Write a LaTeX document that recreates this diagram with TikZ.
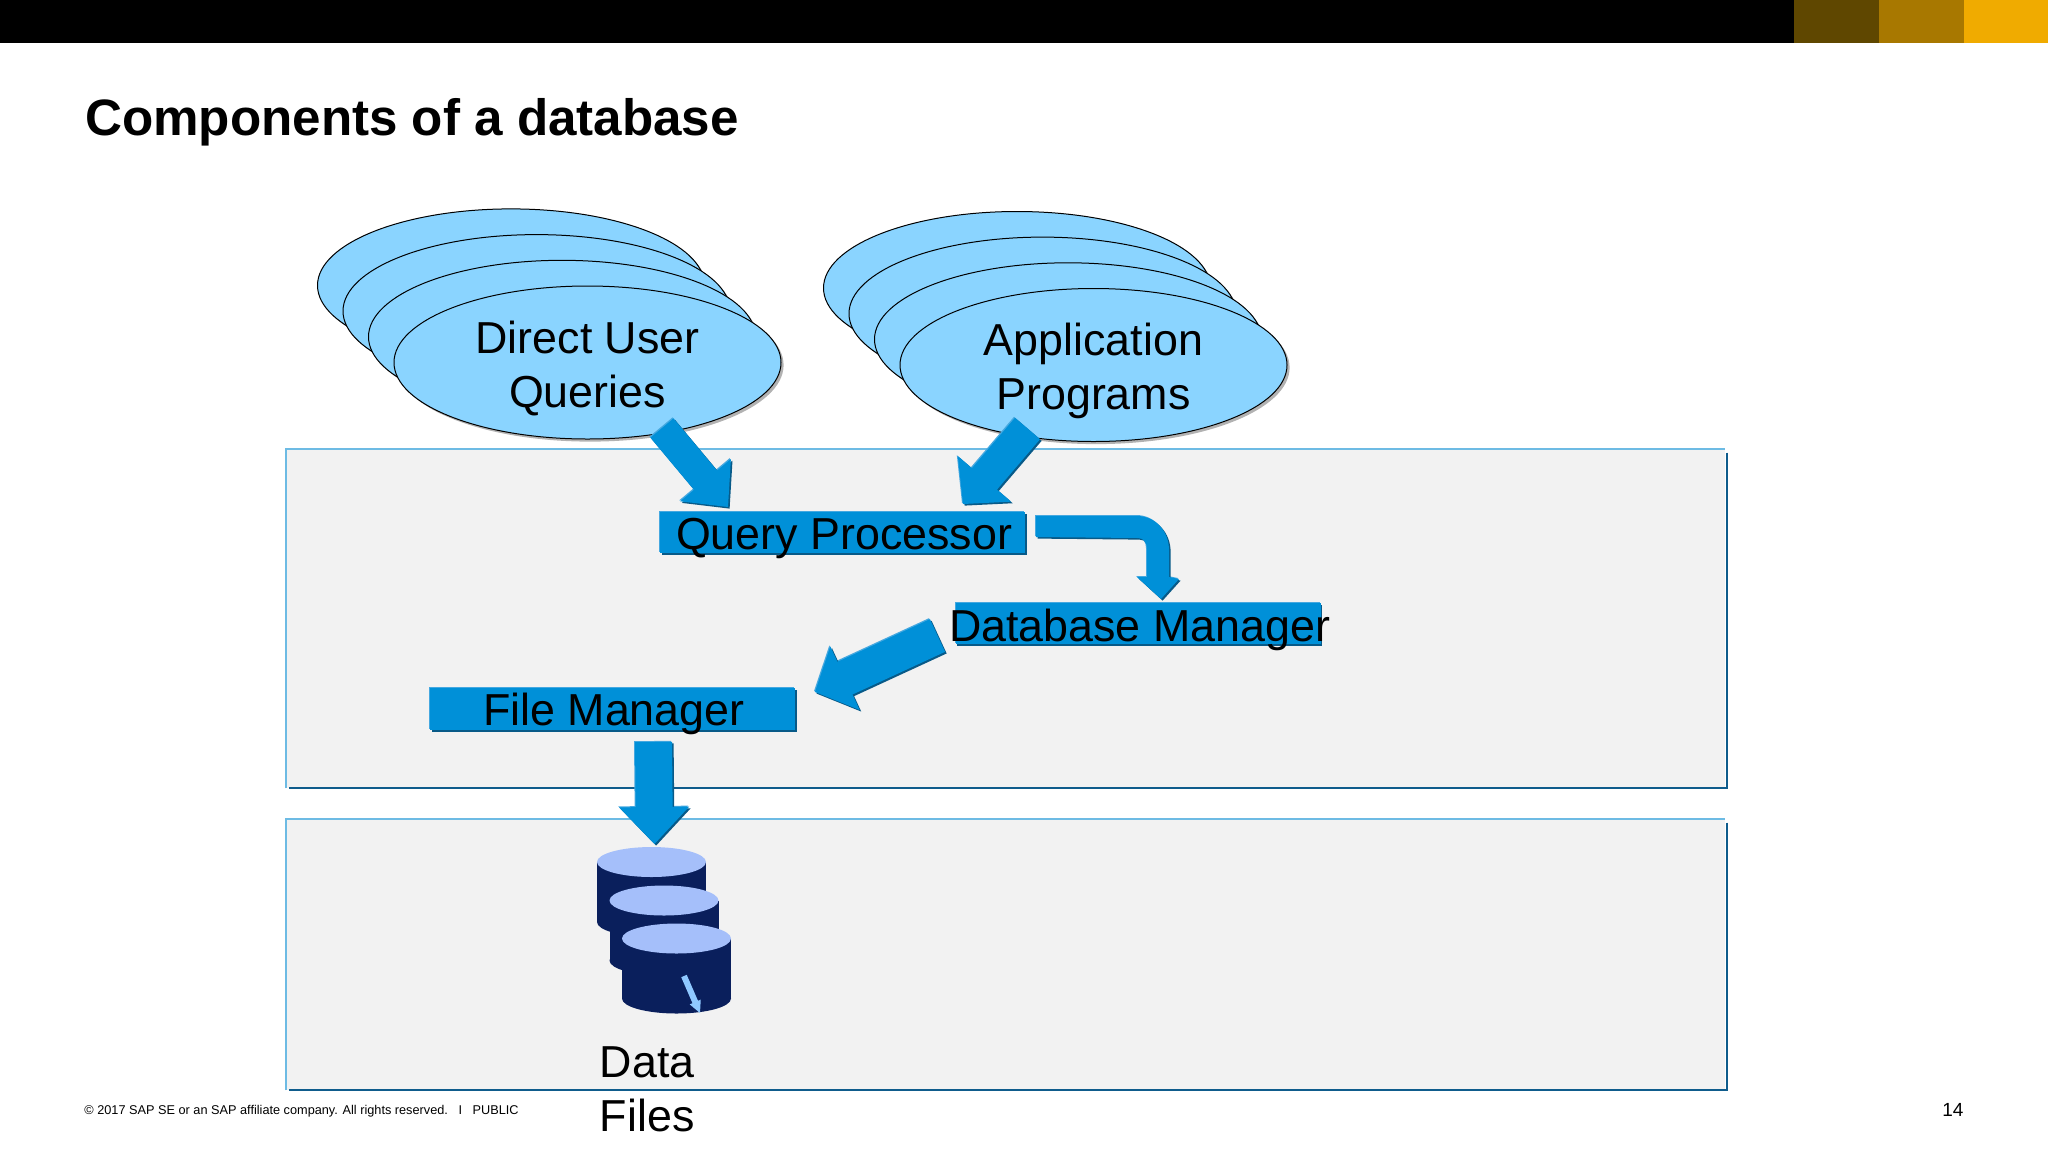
\documentclass[tikz,border=0pt]{standalone}
\usepackage{fontspec}
\setmainfont{Liberation Sans}
\usetikzlibrary{calc,shadows,shapes.geometric}
\definecolor{paneltint}{HTML}{F2F2F2}
\definecolor{edgelight}{HTML}{6DBBE4}
\definecolor{edgedark}{HTML}{0F5C8C}
\definecolor{skyblob}{HTML}{8AD4FF}
\definecolor{blockblue}{HTML}{0090D8}
\definecolor{blocklight}{HTML}{45A8E0}
\definecolor{blockdark}{HTML}{085A88}
\definecolor{drumbody}{HTML}{0A1F5C}
\definecolor{drumtop}{HTML}{A5BFFA}
\definecolor{needle}{HTML}{8FC8FF}
\definecolor{barbrown}{HTML}{5F4700}
\definecolor{barochre}{HTML}{A87800}
\definecolor{bargold}{HTML}{F0AB00}
\newcommand\bevelfill[1]{%
  \fill[blocklight,transform canvas={shift={(-0.5pt,0.5pt)}}] #1;
  \fill[blockdark,transform canvas={shift={(0.8pt,-0.8pt)}}] #1;
  \fill[blockblue] #1;}
% tail, tip, shaft half width, head half width, head length (px)
\newcommand\blockpath[5]{($(#1)!#3*0.5pt!90:(#2)$) -- ($(neck)!#3*0.5pt!90:(#2)$) -- ($(neck)!#4*0.5pt!90:(#2)$) -- (#2) -- ($(neck)!#4*0.5pt!-90:(#2)$) -- ($(neck)!#3*0.5pt!-90:(#2)$) -- ($(#1)!#3*0.5pt!-90:(#2)$) -- cycle}
\newcommand\blockarrow[5]{%
  \coordinate (neck) at ($(#2)!#5*0.5pt!(#1)$);
  \bevelfill{\blockpath{#1}{#2}{#3}{#4}{#5}}}
\newcommand\drum[2]{%
  \fill[drumbody] (#1-54.5,#2) rectangle (#1+54.5,#2+60);
  \fill[drumbody] (#1,#2+60) ellipse [x radius=54.5,y radius=15];
  \fill[drumtop] (#1,#2) ellipse [x radius=54.5,y radius=15];}
\tikzset{
  panelbox/.style={rectangle,fill=paneltint,inner sep=0pt},
  lightedge/.style={edgelight,line width=1pt},
  darkedge/.style={edgedark,line width=1pt},
  blob/.style={ellipse,fill=skyblob,draw=black,line width=0.5pt,minimum width=193.5pt,minimum height=76.5pt,inner sep=0pt,
    drop shadow={shadow xshift=1.3pt,shadow yshift=-1.3pt,fill=black,opacity=0.3}},
  blobtext/.style={align=center,font=\fontsize{22.4}{26.75}\selectfont,inner sep=0pt},
  procbox/.style={rectangle,fill=blockblue,inner sep=0pt,minimum width=182.5pt,font=\fontsize{22.4}{26}\selectfont,
    general shadow={shadow xshift=-0.5pt,shadow yshift=0.5pt,fill=blocklight},
    general shadow={shadow xshift=0.8pt,shadow yshift=-0.8pt,fill=blockdark}},
  plaintext/.style={inner sep=0pt,anchor=base west},
}
\begin{document}
\begin{tikzpicture}[x=0.5pt,y=-0.5pt]
\useasboundingbox (0,0) rectangle (2048,1152);
\fill[white] (0,0) rectangle (2048,1152);
% top bar
\fill[black] (0,0) rectangle (1794,42.5);
\fill[barbrown] (1794,0) rectangle (1879,42.5);
\fill[barochre] (1879,0) rectangle (1964,42.5);
\fill[bargold] (1964,0) rectangle (2048,42.5);
\node[plaintext,font=\fontsize{25.58}{30}\selectfont\bfseries] (title) at (84.7,135.2) {Components of a database};
% panels
\node[panelbox,minimum width=719.5pt,minimum height=169.5pt] (upper) at (1005.5,618.5) {};
\node[panelbox,minimum width=719.5pt,minimum height=135.5pt] (lower) at (1005.5,954.5) {};
\foreach \p in {upper,lower}{
  \draw[lightedge] (\p.south west) -- (\p.north west) -- (\p.north east);
  \draw[darkedge] ($(\p.north east)+(1.5,4)$) -- ($(\p.south east)+(1.5,0)$) -- ($(\p.south west)+(3,0)$);
}
% stacked ellipses
\node[blob] (q3) at (511,285.4) {};
\node[blob] (q2) at (536.5,311.1) {};
\node[blob] (q1) at (562,336.8) {};
\node[blob,label={[blobtext,yshift=-2.9pt,name=qtext]center:Direct User\\Queries}] (queries) at (587.5,362.5) {};
\node[blob] (a3) at (1017,288) {};
\node[blob] (a2) at (1042.5,313.6) {};
\node[blob] (a1) at (1068,339.3) {};
\node[blob,label={[blobtext,yshift=-2.9pt,name=atext]center:Application\\Programs}] (apps) at (1093.5,365) {};
% process boxes
\node[procbox,text height=18.5pt,text depth=2pt] (qp) at (842.75,532.5) {\makebox[0pt][c]{\hspace{1.4pt}Query Processor}};
\node[procbox,text height=19pt,text depth=1.5pt] (dbm) at (1138.25,623.5) {\makebox[0pt][c]{\hspace{1.4pt}Database Manager}};
\node[procbox,text height=18.5pt,text depth=2.5pt] (fm) at (612.5,709) {\makebox[0pt][c]{\hspace{1.4pt}File Manager}};
% block arrows
\coordinate (t1) at (662,428); \coordinate (h1) at (728,507);
\blockarrow{t1}{h1}{15}{33}{35}
\coordinate (t2) at (1027.5,428.5); \coordinate (h2) at (963,504);
\blockarrow{t2}{h2}{16.5}{35}{33}
\coordinate (t3) at (937.5,635.5); \coordinate (h3) at (815,692);
\blockarrow{t3}{h3}{18}{35}{33}
\coordinate (t4) at (653.5,742); \coordinate (h4) at (654.5,844);
\blockarrow{t4}{h4}{18.5}{35}{37}
\coordinate (t5) at (1036,516);
\coordinate (h5) at (1161,599);
\bevelfill{(t5) -- (1137,516) .. controls (1156,516) and (1169,532) .. (1169,550) -- (1169,577) -- (1179,579) -- (h5) -- (1137,577) -- (1147,577) -- (1147,549) .. controls (1147,543) and (1144,538) .. (1138,538) -- (1036,537) -- cycle}
% data file drums
\drum{651.5}{862}
\drum{664}{900.5}
\drum{676.5}{938.5}
\coordinate (n0) at (684,976); \coordinate (n1) at (700,1013);
\coordinate (neck) at ($(n1)!12*0.5pt!(n0)$);
\fill[needle] \blockpath{n0}{n1}{3}{6}{12};
\node[inner sep=0pt,anchor=south west,align=left,font=\fontsize{22.4}{27}\selectfont] (files) at (599.5,1132.5) {Data\\Files};
% footer
\node[plaintext,font=\fontsize{6.36}{8}\selectfont] (foot) at (84,1114.5) {© 2017 SAP SE or an SAP affiliate company. All rights reserved.\ \ \ I\ \ \ PUBLIC};
\node[plaintext,font=\fontsize{9.5}{11}\selectfont] (pageno) at (1942,1116) {14};
\end{tikzpicture}
\end{document}
